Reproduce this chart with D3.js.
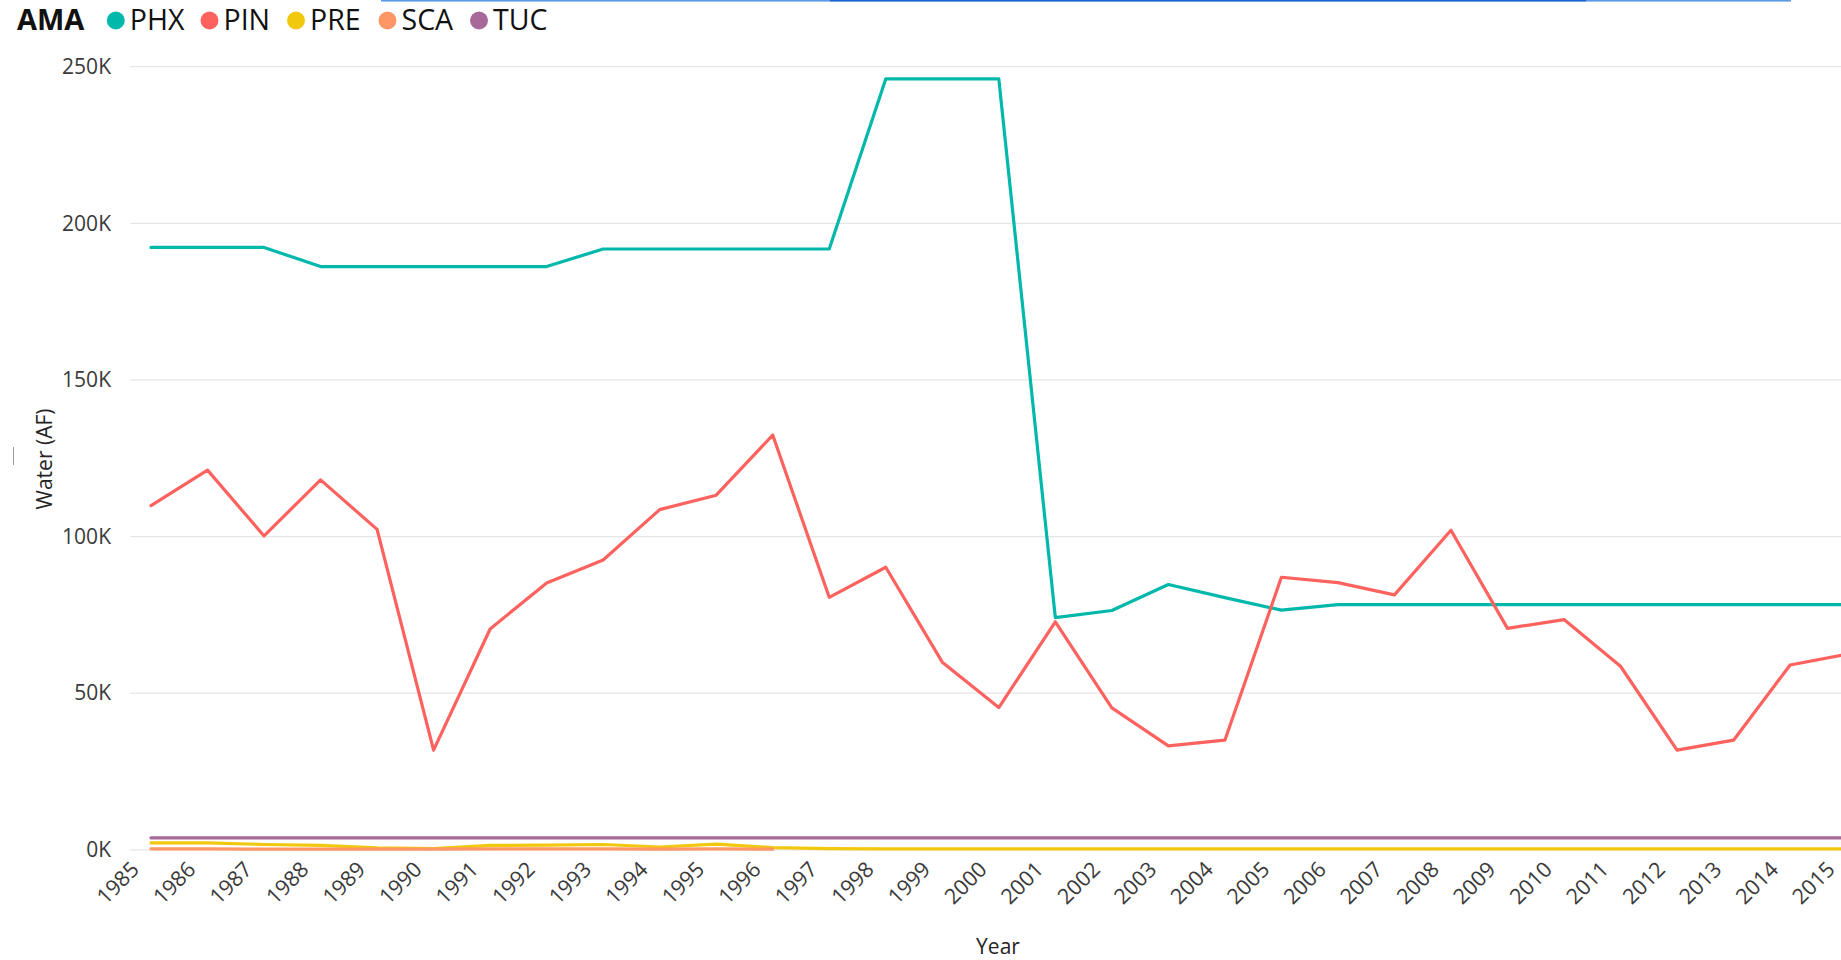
<!DOCTYPE html>
<html>
<head>
<meta charset="utf-8">
<script src="https://cdn.jsdelivr.net/npm/d3@7"></script>
<style>
  html, body { margin: 0; padding: 0; background: #fff; overflow: hidden; }
  svg { display: block; font-family: "Open Sans", "Noto Sans", sans-serif; }
</style>
</head>
<body>
<svg id="chart" width="1841" height="960"></svg>
<script>
// ---- data ----
const years = ["1985","1986","1987","1988","1989","1990","1991","1992","1993","1994","1995","1996","1997","1998","1999","2000","2001","2002","2003","2004","2005","2006","2007","2008","2009","2010","2011","2012","2013","2014","2015"];
const seriesNames = ["PHX","PIN","PRE","SCA","TUC"];
const seriesColors = ["#01B8AA","#FD625E","#F2C80F","#FE9666","#A66999"];
const PHX = [192300,192300,192300,186200,186200,186200,186200,186200,191800,191800,191800,191800,191800,246100,246100,246100,74100,76400,84700,80500,76500,78300,78300,78300,78300,78300,78300,78300,78300,78300,78300];
const PIN = [109900,121200,100200,118100,102300,31800,70500,85200,92500,108600,113200,132400,80600,90200,59900,45400,72800,45300,33200,35000,87000,85300,81400,102000,70700,73500,58600,31800,35000,59000,62400];
const PRE = [2200,2200,1700,1400,600,400,1400,1500,1700,900,1800,700,400,300,300,300,300,300,300,300,300,300,300,300,300,300,300,300,300,300,300];
const SCA = [300,300,200,200,200,200,300,300,300,200,300,200,null,null,null,null,null,null,null,null,null,null,null,null,null,null,null,null,null,null,null];
const TUC = [3800,3800,3800,3800,3800,3800,3800,3800,3800,3800,3800,3800,3800,3800,3800,3800,3800,3800,3800,3800,3800,3800,3800,3800,3800,3800,3800,3800,3800,3800,3800];
const yTicks = [0,50000,100000,150000,200000,250000];
const legendTitle = "AMA";
const yTitle = "Water (AF)";
const xTitle = "Year";

const seriesValues = [PHX, PIN, PRE, SCA, TUC];

const svg = d3.select("#chart");

// ---- scales ----
const x = d3.scalePoint().domain(years).range([151, 1846.6]);
const y = d3.scaleLinear().domain([0, 250000]).range([849.8, 66.7]);

// ---- top selection bar artifact ----
const topBar = svg.append("g");
topBar.append("rect").attr("x", 381).attr("y", 0).attr("width", 449).attr("height", 1.6).attr("fill", "#5d9ae6");
topBar.append("rect").attr("x", 830).attr("y", 0).attr("width", 756).attr("height", 1.6).attr("fill", "#1566d4");
topBar.append("rect").attr("x", 1586).attr("y", 0).attr("width", 205).attr("height", 1.6).attr("fill", "#5d9ae6");

// ---- gridlines ----
svg.append("g")
  .selectAll("line")
  .data(yTicks)
  .join("line")
  .attr("x1", 130).attr("x2", 1841)
  .attr("y1", d => y(d)).attr("y2", d => y(d))
  .attr("stroke", "#e6e6e6").attr("stroke-width", 1.2);

// ---- y axis labels ----
const yAxis = d3.axisLeft(y).tickValues(yTicks).tickFormat(d => (d / 1000) + "K").tickSize(0).tickPadding(0);
const yg = svg.append("g").attr("transform", "translate(111,0)").call(yAxis);
yg.select(".domain").remove();
yg.selectAll("text")
  .attr("font-size", "21px")
  .attr("fill", "#3a3a3a")
  .attr("font-family", "\"Open Sans\", sans-serif");

// ---- x axis labels ----
const xAxis = d3.axisBottom(x).tickSize(0).tickPadding(0);
const xg = svg.append("g").attr("transform", "translate(0,849.8)").call(xAxis);
xg.select(".domain").remove();
xg.selectAll("text")
  .attr("font-size", "21.5px")
  .attr("fill", "#3a3a3a")
  .attr("font-family", "\"Open Sans\", sans-serif")
  .attr("text-anchor", "end")
  .attr("dy", 0)
  .attr("y", 0)
  .attr("transform", "translate(-11,21) rotate(-45)");

// ---- axis titles ----
svg.append("text")
  .attr("transform", "translate(44,459) rotate(-90)")
  .attr("text-anchor", "middle")
  .attr("dominant-baseline", "central")
  .attr("font-size", "21px")
  .attr("fill", "#252423")
  .text(yTitle);

svg.append("line")
  .attr("x1", 13.5).attr("x2", 13.5).attr("y1", 447).attr("y2", 465)
  .attr("stroke", "#9a9a9a").attr("stroke-width", 1);

svg.append("text")
  .attr("x", 998).attr("y", 954)
  .attr("text-anchor", "middle")
  .attr("font-size", "21px")
  .attr("fill", "#252423")
  .text(xTitle);

// ---- lines ----
const line = d3.line()
  .defined(d => d.v !== null)
  .x(d => x(d.year))
  .y(d => y(d.v));

const seriesData = seriesNames.map((name, i) => ({
  name,
  color: seriesColors[i],
  points: years.map((yr, j) => ({ year: yr, v: seriesValues[i][j] }))
}));

svg.append("g")
  .selectAll("path")
  .data(seriesData)
  .join("path")
  .attr("d", d => line(d.points))
  .attr("fill", "none")
  .attr("stroke", d => d.color)
  .attr("stroke-width", 3.2)
  .attr("stroke-linejoin", "round")
  .attr("stroke-linecap", "round");

// ---- legend ----
const legend = svg.append("g");
legend.append("text")
  .attr("x", 17).attr("y", 30)
  .attr("font-size", "29px")
  .attr("font-weight", "bold")
  .attr("fill", "#111")
  .text(legendTitle);

const legendCx = [115.8, 209.5, 296, 387.5, 479];
const items = legend.selectAll("g.item")
  .data(seriesData)
  .join("g")
  .attr("class", "item")
  .attr("transform", (d, i) => `translate(${legendCx[i]},20.5)`);
items.append("circle").attr("r", 9).attr("fill", d => d.color);
items.append("text")
  .attr("x", 14).attr("y", 9.5)
  .attr("font-size", "28.5px")
  .attr("fill", "#111")
  .text(d => d.name);
</script>
</body>
</html>
